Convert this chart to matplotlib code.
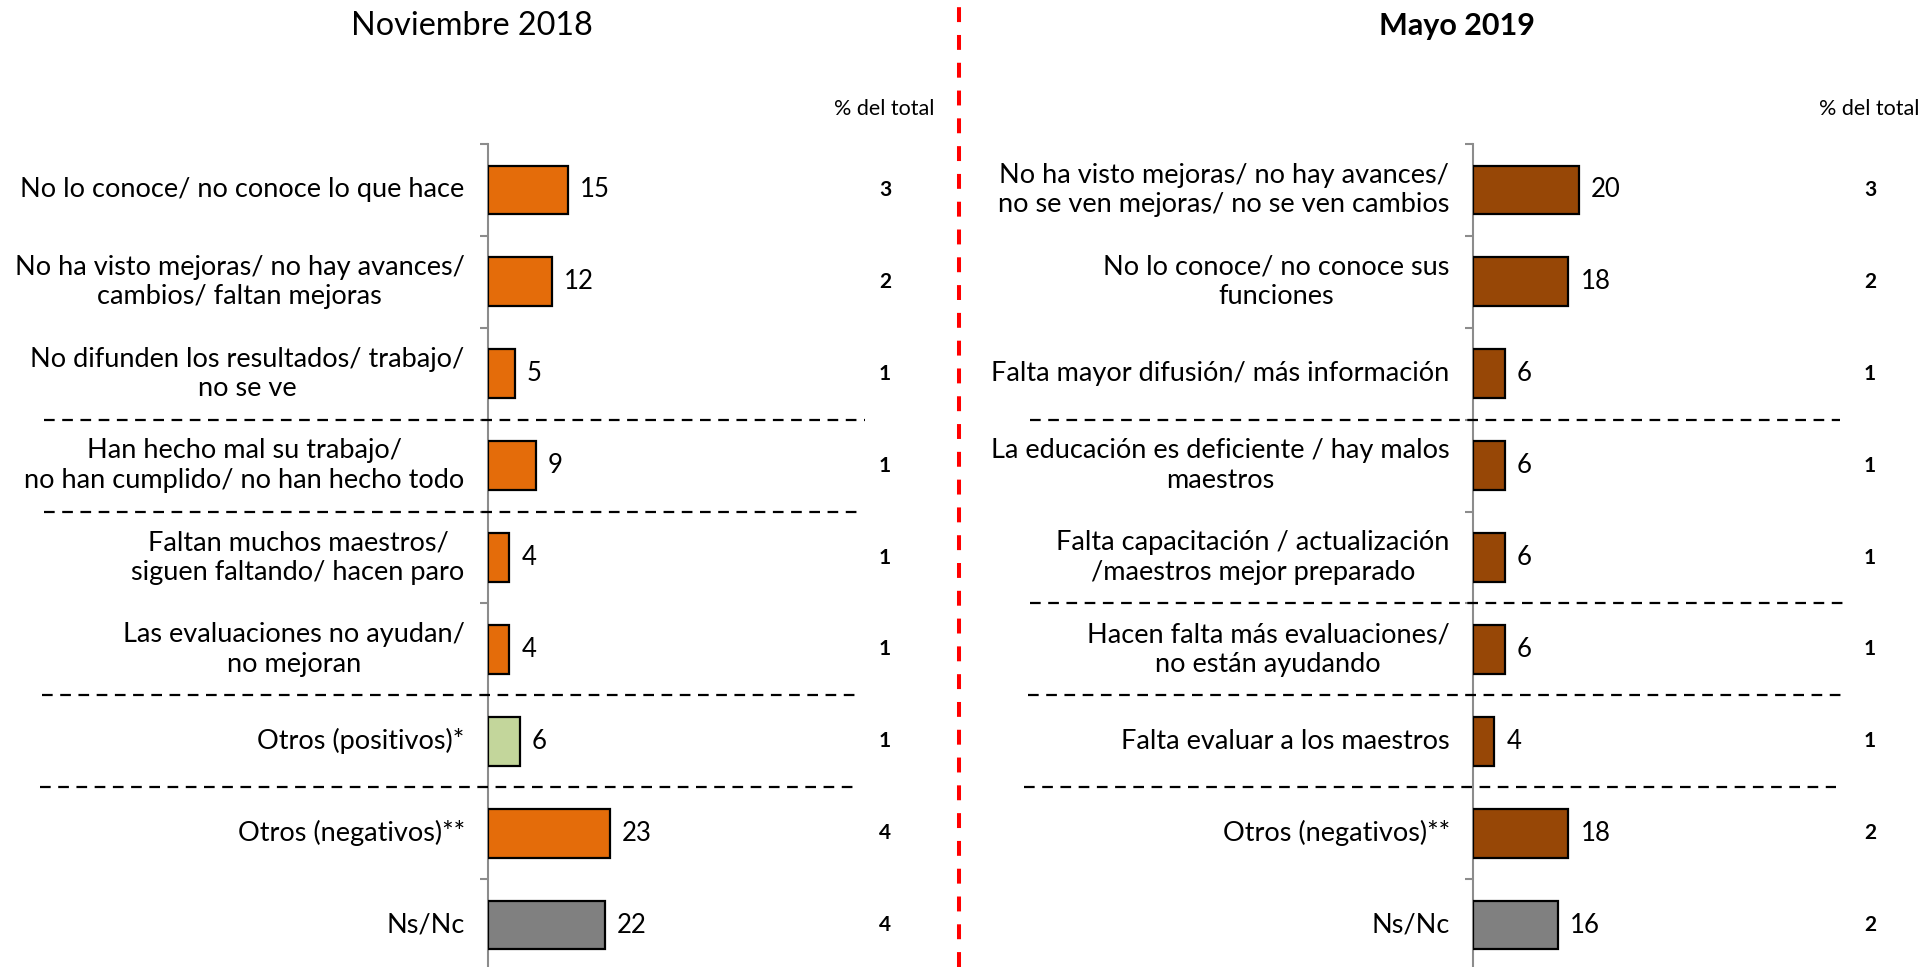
import matplotlib
matplotlib.use("Agg")
import matplotlib.pyplot as plt
from matplotlib.lines import Line2D
from matplotlib.transforms import blended_transform_factory

plt.rcParams['font.family'] = ['Lato', 'DejaVu Sans']

# ---------------- data ----------------
title_left = "Noviembre 2018"
title_right = "Mayo 2019"
col_header = "% del total"

cats_left = [
    "No lo conoce/ no conoce lo que hace",
    "No ha visto mejoras/ no hay avances/\ncambios/ faltan mejoras",
    "No difunden los resultados/ trabajo/\nno se ve",
    "Han hecho mal su trabajo/\nno han cumplido/ no han hecho todo",
    "Faltan muchos maestros/\nsiguen faltando/ hacen paro",
    "Las evaluaciones no ayudan/\nno mejoran",
    "Otros (positivos)*",
    "Otros (negativos)**",
    "Ns/Nc",
]
vals_left = [15, 12, 5, 9, 4, 4, 6, 23, 22]
pct_left = [3, 2, 1, 1, 1, 1, 1, 4, 4]
kind_left = ["neg", "neg", "neg", "neg", "neg", "neg", "pos", "neg", "nsnc"]
sep_left = [2.5, 3.5, 5.5, 6.5]

cats_right = [
    "No ha visto mejoras/ no hay avances/\nno se ven mejoras/ no se ven cambios",
    "No lo conoce/ no conoce sus\nfunciones",
    "Falta mayor difusión/ más información",
    "La educación es deficiente / hay malos\nmaestros",
    "Falta capacitación / actualización\n/maestros mejor preparado",
    "Hacen falta más evaluaciones/\nno están ayudando",
    "Falta evaluar a los maestros",
    "Otros (negativos)**",
    "Ns/Nc",
]
vals_right = [20, 18, 6, 6, 6, 6, 4, 18, 16]
pct_right = [3, 2, 1, 1, 1, 1, 1, 2, 2]
kind_right = ["neg", "neg", "neg", "neg", "neg", "neg", "neg", "neg", "nsnc"]
sep_right = [2.5, 4.5, 5.5, 6.5]

# ---------------- figure ----------------
W, H = 1923, 967
fig = plt.figure(figsize=(W / 100, H / 100), dpi=100)

px_per_unit = 5.3        # full-res pixels per data unit
xmax = 60
ax_w = xmax * px_per_unit / W
ax_top = 1 - 144 / H
ax_bot = -4 / H

FS = 19.5
FS_VAL = 18.5


def panel(x0, cats, vals, pcts, kinds, seps, colors, pct_x, sep_x0, sep_x1, hdr_x,
          title, title_x, title_bold, title_fs):
    ax = fig.add_axes([x0, ax_bot, ax_w, ax_top - ax_bot])
    n = len(cats)
    ys = list(range(n))
    cols = [colors[k] for k in kinds]
    ax.barh(ys, vals, height=0.53, color=cols, edgecolor='black', linewidth=1.6, zorder=3)
    ax.set_ylim(n - 0.5, -0.5)
    ax.set_xlim(0, xmax)
    for s in ['top', 'right', 'bottom']:
        ax.spines[s].set_visible(False)
    ax.spines['left'].set_color('#8c8c8c')
    ax.spines['left'].set_linewidth(1.5)
    ax.set_xticks([])
    ax.set_yticks([i - 0.5 for i in range(n + 1)])
    ax.set_yticklabels([])
    ax.tick_params(axis='y', length=6, width=1.5, color='#8c8c8c', direction='out')
    ax.patch.set_alpha(0)
    tr = blended_transform_factory(fig.transFigure, ax.transData)
    for y, c, v, p in zip(ys, cats, vals, pcts):
        ax.text(-4.4, y, c, ha='right', va='center', multialignment='center',
                fontsize=FS, linespacing=1.22)
        ax.text(v + 2.3, y, str(v), ha='left', va='center', fontsize=FS_VAL)
        ax.text(pct_x, y, str(p), ha='center', va='center', fontsize=15,
                fontweight='bold', transform=tr)
    for s, xa, xb in zip(seps, sep_x0, sep_x1):
        ax.add_line(Line2D([xa, xb], [s, s], transform=tr, color='black', linewidth=1.6,
                           linestyle=(0, (4.8, 3.4)), clip_on=False, zorder=4))
    fig.text(hdr_x, 1 - 109 / H, col_header, ha='right', va='center', fontsize=15.5)
    fig.text(title_x, 1 - 26 / H, title, ha='center', va='center', fontsize=title_fs,
             fontweight='bold' if title_bold else 'normal')
    return ax


colors_l = {"neg": "#E46C0A", "pos": "#C3D69B", "nsnc": "#808080"}
colors_r = {"neg": "#974706", "pos": "#C3D69B", "nsnc": "#808080"}

panel(488 / W, cats_left, vals_left, pct_left, kind_left, sep_left, colors_l,
      pct_x=885 / W,
      sep_x0=[44 / W, 44 / W, 42 / W, 40 / W], sep_x1=[865 / W, 858 / W, 855 / W, 855 / W],
      hdr_x=934 / W, title=title_left, title_x=472 / W, title_bold=False, title_fs=23.3)

panel(1473 / W, cats_right, vals_right, pct_right, kind_right, sep_right, colors_r,
      pct_x=1870 / W,
      sep_x0=[1030 / W, 1030 / W, 1028 / W, 1024 / W], sep_x1=[1840 / W, 1845 / W, 1845 / W, 1836 / W],
      hdr_x=1919 / W, title=title_right, title_x=1457 / W, title_bold=True, title_fs=22)

# red dashed separator
fig.add_artist(Line2D([959 / W, 959 / W], [0, 1], transform=fig.transFigure, color='#FF0000',
                      linewidth=2.9, linestyle=(0, (3.7, 3.2))))

fig.savefig("out.png", dpi=100)
